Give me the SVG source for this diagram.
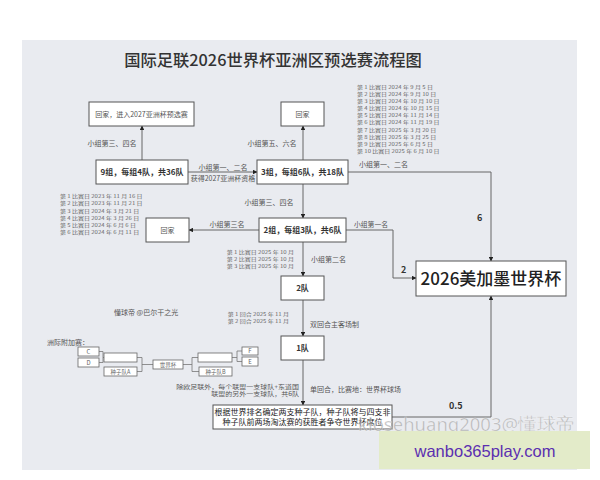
<svg xmlns="http://www.w3.org/2000/svg" width="600" height="480" viewBox="0 0 600 480">
<defs>
<marker id="arr" viewBox="0 0 10 10" refX="9" refY="5" markerWidth="4.5" markerHeight="4.5" orient="auto" markerUnits="userSpaceOnUse"><path d="M0,0 L10,5 L0,10 z" fill="#222"/></marker>
<style>
text{font-family:"Noto Sans CJK SC","Noto Sans",sans-serif;fill:#555}
.box{fill:#fff;stroke:#555;stroke-width:1}
.sbox{fill:#fff;stroke:#666;stroke-width:0.8}
.lnA{fill:none;stroke:#666;stroke-width:1;marker-end:url(#arr)}
.bl{fill:none;stroke:#777;stroke-width:0.8}
.lbl{font-size:7px}
.date{font-size:6px;fill:#666}
.bt{font-size:8px;font-weight:bold;fill:#333;text-anchor:middle}
.nt{font-size:7px;fill:#555;text-anchor:middle}
.st{font-size:5.5px;fill:#666;text-anchor:middle}
.num{font-size:9px;font-weight:bold;fill:#333}
</style>
</defs>
<rect x="0" y="0" width="600" height="480" fill="#fff"/>
<rect x="22" y="40" width="555" height="430" fill="#e9ebf0"/>
<text x="273" y="66" font-size="16.3" text-anchor="middle" style="fill:#333;font-weight:500">国际足联2026世界杯亚洲区预选赛流程图</text>

<g id="connectors">
<path class="lnA" d="M142,160 V126"/>
<path class="lnA" d="M303,160 V126"/>
<path class="lnA" d="M188,172 H257"/>
<path class="lnA" d="M348,172 H491 V261"/>
<path class="lnA" d="M303,184 V218"/>
<path class="lnA" d="M259,230 H189"/>
<path class="lnA" d="M346,230 H393 V278 H416"/>
<path class="lnA" d="M303,242 V276"/>
<path class="lnA" d="M303,300 V336"/>
<path class="lnA" d="M303,360 V405"/>
<path class="lnA" d="M392,417 H491 V296"/>
</g>

<g id="labels">
<text class="lbl" x="112" y="145.5" text-anchor="middle">小组第三、四名</text>
<text class="lbl" x="272" y="145.5" text-anchor="middle">小组第五、六名</text>
<text class="lbl" x="223" y="169.5" text-anchor="middle">小组第一、二名</text>
<text class="lbl" x="223" y="180.5" text-anchor="middle">获得2027亚洲杯资格</text>
<text class="lbl" x="359" y="166.5">小组第一、二名</text>
<text class="num" x="477" y="221">6</text>
<text class="lbl" x="269" y="204.5" text-anchor="middle">小组第三、四名</text>
<text class="lbl" x="227" y="226.5" text-anchor="middle">小组第三名</text>
<text class="lbl" x="354" y="226.5" style="font-size:6.8px">小组第一名</text>
<text class="num" x="401" y="273">2</text>
<text class="lbl" x="311" y="261.5">小组第二名</text>
<text class="lbl" x="310" y="326.5">双回合主客场制</text>
<text class="lbl" x="310" y="391.5">单回合，比赛地：世界杯球场</text>
<text class="num" x="449" y="409">0.5</text>
<text class="lbl" x="114" y="314.5">懂球帝 @巴尔干之光</text>
<text class="lbl" x="47" y="344.5">洲际附加赛：</text>
<g transform="translate(299,388.5) scale(1,0.8)"><text class="lbl" text-anchor="end"><tspan x="0" y="0">除欧足联外，每个联盟一支球队+东道国</tspan><tspan x="0" dy="10">联盟的另外一支球队，共6队</tspan></text></g>
</g>

<g id="dates-round3" transform="translate(357,89) scale(1,0.8)">
<text class="date"><tspan x="0" y="0">第 1 比赛日 2024 年 9 月 5 日</tspan><tspan x="0" dy="8.875">第 2 比赛日 2024 年 9 月 10 日</tspan><tspan x="0" dy="8.875">第 3 比赛日 2024 年 10 月 10 日</tspan><tspan x="0" dy="8.875">第 4 比赛日 2024 年 10 月 15 日</tspan><tspan x="0" dy="8.875">第 5 比赛日 2024 年 11 月 14 日</tspan><tspan x="0" dy="8.875">第 6 比赛日 2024 年 11 月 19 日</tspan><tspan x="0" dy="8.875">第 7 比赛日 2025 年 3 月 20 日</tspan><tspan x="0" dy="8.875">第 8 比赛日 2025 年 3 月 25 日</tspan><tspan x="0" dy="8.875">第 9 比赛日 2025 年 6 月 5 日</tspan><tspan x="0" dy="8.875">第 10 比赛日 2025 年 6 月 10 日</tspan></text>
</g>
<g id="dates-round2" transform="translate(60,198) scale(1,0.8)">
<text class="date"><tspan x="0" y="0">第 1 比赛日 2023 年 11 月 16 日</tspan><tspan x="0" dy="9.125">第 2 比赛日 2023 年 11 月 21 日</tspan><tspan x="0" dy="9.125">第 3 比赛日 2024 年 3 月 21 日</tspan><tspan x="0" dy="9.125">第 4 比赛日 2024 年 3 月 26 日</tspan><tspan x="0" dy="9.125">第 5 比赛日 2024 年 6 月 6 日</tspan><tspan x="0" dy="9.125">第 6 比赛日 2024 年 6 月 11 日</tspan></text>
</g>
<g id="dates-round4" transform="translate(294,254) scale(1,0.8)">
<text class="date" text-anchor="end"><tspan x="0" y="0">第 1 比赛日 2025 年 10 月</tspan><tspan x="0" dy="8.875">第 2 比赛日 2025 年 10 月</tspan><tspan x="0" dy="8.875">第 3 比赛日 2025 年 10 月</tspan></text>
</g>
<g id="dates-round5" transform="translate(289,316) scale(1,0.8)">
<text class="date" text-anchor="end"><tspan x="0" y="0">第 1 回合 2025 年 11 月</tspan><tspan x="0" dy="8.875">第 2 回合 2025 年 11 月</tspan></text>
</g>

<g id="n-home-asiancup"><rect class="box" x="89" y="102" width="105" height="24"/><text class="nt" x="141.5" y="116.5">回家，进入2027亚洲杯预选赛</text></g>
<g id="n-home-1"><rect class="box" x="281" y="102" width="43" height="24"/><text class="nt" x="302.5" y="116.5">回家</text></g>
<g id="n-round2"><rect class="box" x="96" y="160" width="92" height="24"/><text class="bt" x="142" y="175">9组，每组4队，共36队</text></g>
<g id="n-round3"><rect class="box" x="257" y="160" width="91" height="24"/><text class="bt" x="302.5" y="175">3组，每组6队，共18队</text></g>
<g id="n-home-2"><rect class="box" x="146" y="218" width="43" height="24"/><text class="nt" x="167.5" y="232.5">回家</text></g>
<g id="n-round4"><rect class="box" x="259" y="218" width="87" height="24"/><text class="bt" x="302.5" y="233">2组，每组3队，共6队</text></g>
<g id="n-worldcup"><rect class="box" x="416" y="261" width="150" height="35"/><text x="491" y="285" font-size="17" text-anchor="middle" style="fill:#222;font-weight:500">2026美加墨世界杯</text></g>
<g id="n-2teams"><rect class="box" x="281" y="276" width="43" height="24"/><text class="bt" x="302.5" y="291">2队</text></g>
<g id="n-1team"><rect class="box" x="281" y="336" width="43" height="24"/><text class="bt" x="302.5" y="351">1队</text></g>
<g id="n-playoff"><rect class="box" x="213" y="405" width="179" height="24"/>
<text font-size="8" text-anchor="middle" style="fill:#222"><tspan x="302.5" y="415">根据世界排名确定两支种子队，种子队将与四支非</tspan><tspan x="302.5" y="425">种子队前两场淘汰赛的获胜者争夺世界杯席位</tspan></text></g>

<g id="bracket">
<path class="bl" d="M99,351.5 H103 V362.5 H99 M103,357.5 H104"/>
<path class="bl" d="M137,357.5 H142 V371.5 H137 M142,364.5 H153"/>
<path class="bl" d="M183,364.5 H192 M192,357.5 V371.5 M192,357.5 H198 M192,371.5 H199"/>
<path class="bl" d="M232,357.5 H237 M237,351 V361.5 M237,351 H242 M237,361.5 H242"/>
<g id="b-C"><rect class="sbox" x="78" y="347" width="21" height="9"/><text class="st" x="88.5" y="353.6" style="font-size:6px">C</text></g>
<g id="b-D"><rect class="sbox" x="78" y="358" width="21" height="9"/><text class="st" x="88.5" y="364.6" style="font-size:6px">D</text></g>
<g id="b-w1"><rect class="sbox" x="104" y="353" width="33" height="9"/></g>
<g id="b-seedA"><rect class="sbox" x="104" y="367" width="33" height="9"/><text class="st" x="120.5" y="373.5">种子队A</text></g>
<g id="b-wc"><rect class="sbox" x="153" y="360" width="30" height="9"/><text class="st" x="168" y="366.5">世界杯</text></g>
<g id="b-w2"><rect class="sbox" x="198" y="353" width="34" height="9"/></g>
<g id="b-seedB"><rect class="sbox" x="199" y="367" width="33" height="9"/><text class="st" x="215.5" y="373.5">种子队B</text></g>
<g id="b-F"><rect class="sbox" x="242" y="347" width="16" height="8"/><text class="st" x="250" y="353" style="font-size:6px">F</text></g>
<g id="b-E"><rect class="sbox" x="242" y="357" width="16" height="9"/><text class="st" x="250" y="363.6" style="font-size:6px">E</text></g>
</g>

<g id="watermark">
<text x="358" y="431" font-size="18.5" style="font-family:'Noto Sans','DejaVu Sans',sans-serif;fill:#8a8a8a;fill-opacity:0.55;stroke:#fff;stroke-opacity:0.5;stroke-width:0.6">klosehuang2003@懂球帝</text>
<rect x="379" y="431" width="211" height="38" fill="#e3ebc9"/>
<text x="485" y="457" font-size="16.5" text-anchor="middle" style="font-family:'Liberation Sans',Arial,sans-serif;fill:#5b2fb0">wanbo365play.com</text>
</g>
</svg>
